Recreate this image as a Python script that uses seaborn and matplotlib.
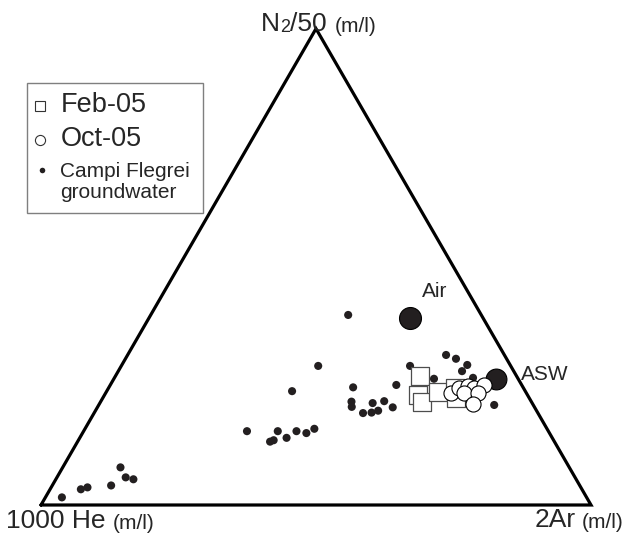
import numpy as np
import pandas as pd
import matplotlib
matplotlib.use("Agg")
import matplotlib.pyplot as plt
import seaborn as sns
from matplotlib.patches import Rectangle
from matplotlib.lines import Line2D

sns.set_theme(style="white")
plt.rcParams["font.family"] = ["Liberation Sans", "DejaVu Sans"]

# ---- data: ternary compositions in % (N2/50, 2Ar); 1000He = 100 - N2 - Ar ----
gw_n2 = [39.9, 29.2, 23.9, 15.5, 13.3, 13.6, 15.5, 14.1, 15.5, 15.1, 16.0,
         24.7, 25.2, 21.7, 20.6, 19.3, 21.4, 21.8, 20.5, 19.4, 19.8,
         29.2, 26.5, 31.5, 30.7, 29.4, 28.1, 26.7, 21.0,
         1.6, 3.3, 3.7, 4.1, 7.9, 5.8, 5.4]
gw_ar = [35.9, 35.8, 33.7, 29.7, 35.0, 35.5, 35.3, 37.6, 38.7, 40.7, 41.7,
         44.4, 52.0, 45.6, 46.2, 48.9, 49.6, 51.5, 53.7, 50.4, 51.4,
         52.5, 58.2, 57.9, 60.1, 62.8, 62.5, 65.2, 71.9,
         3.0, 5.6, 6.6, 10.7, 10.5, 12.5, 14.1]

feb_n2 = [27.1, 23.1, 21.6, 23.7, 24.6, 22.5]
feb_ar = [55.4, 57.0, 58.5, 60.3, 63.0, 64.2]

oct_n2 = [23.5, 24.6, 25.0, 24.6, 25.2, 23.5, 23.5, 21.2]
oct_ar = [62.8, 63.7, 65.2, 66.5, 68.0, 65.2, 67.7, 67.9]

ref_names = ["Air", "ASW"]
ref_n2 = [39.3, 26.5]
ref_ar = [47.5, 69.5]

vertex_labels = ["N2/50", "1000 He", "2Ar"]
unit_label = "(m/l)"
legend_labels = ["Feb-05", "Oct-05", "Campi Flegrei\ngroundwater"]


def to_xy(n2, ar):
    n2 = np.asarray(n2, float)
    ar = np.asarray(ar, float)
    return ar + n2 / 2.0, n2 * np.sqrt(3) / 2.0


def frame(n2, ar, group):
    x, y = to_xy(n2, ar)
    he = 100 - np.asarray(n2, float) - np.asarray(ar, float)
    return pd.DataFrame({"x": x, "y": y, "N2": n2, "Ar": ar, "He": he, "group": group})


gw = frame(gw_n2, gw_ar, "gw")
feb = frame(feb_n2, feb_ar, "feb")
octo = frame(oct_n2, oct_ar, "oct")
ref = frame(ref_n2, ref_ar, "ref")

W, H = 628, 540
fig = plt.figure(figsize=(W / 100, H / 100), dpi=100)
ax = fig.add_axes([0, 0, 1, 1])
S = 5.5  # pixels per ternary unit
ax.set_xlim(-41 / S, (W - 41) / S)
ax.set_ylim(-35 / S, (H - 35) / S)
ax.set_axis_off()

# triangle frame from the three pure-end-member compositions
tri_n2 = [0, 0, 100, 0]
tri_ar = [0, 100, 0, 0]
tx, ty = to_xy(tri_n2, tri_ar)
ax.plot(tx, ty, color="black", lw=2.3, solid_joinstyle="miter", zorder=1)

dark = "#231f20"
sns.scatterplot(data=gw, x="x", y="y", ax=ax, color=dark, s=34, edgecolor="none",
                legend=False, zorder=2)
sns.scatterplot(data=ref.iloc[[0]], x="x", y="y", ax=ax, color=dark, s=250,
                edgecolor="black", linewidth=0.8, legend=False, zorder=3)
sns.scatterplot(data=ref.iloc[[1]], x="x", y="y", ax=ax, color=dark, s=225,
                edgecolor="black", linewidth=0.8, legend=False, zorder=3)
sns.scatterplot(data=feb, x="x", y="y", ax=ax, marker="s", color="white", s=150,
                edgecolor="#4d4d4d", linewidth=0.9, legend=False, zorder=4)
sns.scatterplot(data=octo, x="x", y="y", ax=ax, marker="o", color="white", s=118,
                edgecolor="black", linewidth=0.8, legend=False, zorder=5)


def P(x, y):
    return x / W, 1 - y / H


# reference point labels
fig.text(*P(422, 297), ref_names[0], fontsize=15, va="baseline", ha="left")
fig.text(*P(521, 380), ref_names[1], fontsize=15, va="baseline", ha="left")

# apex label: N2/50 (m/l)
t1 = fig.text(*P(261, 31), "N", fontsize=19, va="baseline", ha="left")
t2 = ax.annotate("2", xy=(1, 0), xycoords=t1, fontsize=13, va="bottom", ha="left")
t3 = ax.annotate("/50", xy=(1, 0), xycoords=t2, fontsize=19, va="bottom", ha="left")
ax.annotate(unit_label, xy=(1, 0), xycoords=t3, xytext=(6, 0), textcoords="offset points",
            fontsize=15, va="bottom", ha="left")

# bottom-left label
b1 = fig.text(*P(6, 528), vertex_labels[1], fontsize=19, va="baseline", ha="left")
ax.annotate(unit_label, xy=(1, 0), xycoords=b1, xytext=(5, 0), textcoords="offset points",
            fontsize=15, va="bottom", ha="left")

# bottom-right label
r1 = fig.text(*P(535, 527), vertex_labels[2], fontsize=19, va="baseline", ha="left")
ax.annotate(unit_label, xy=(1, 0), xycoords=r1, xytext=(4, 0), textcoords="offset points",
            fontsize=15, va="bottom", ha="left")

# legend box drawn manually
x0, y0 = P(27, 213)
fig.add_artist(Rectangle((x0, y0), 176 / W, 130 / H, transform=fig.transFigure,
                         facecolor="white", edgecolor="#7f7f7f", lw=1.0, zorder=6))
fig.add_artist(Line2D([P(40, 106)[0]], [P(40, 106)[1]], marker="s", ms=7.3, mfc="white",
                      mec="#333333", mew=0.8, transform=fig.transFigure, zorder=7))
fig.add_artist(Line2D([P(40, 140)[0]], [P(40, 140)[1]], marker="o", ms=7.3, mfc="white",
                      mec="#333333", mew=0.8, transform=fig.transFigure, zorder=7))
fig.add_artist(Line2D([P(42, 170)[0]], [P(42, 170)[1]], marker="o", ms=4, mfc=dark,
                      mec=dark, mew=0, transform=fig.transFigure, zorder=7))
fig.text(*P(61, 112), legend_labels[0], fontsize=19.5, va="baseline", ha="left", zorder=8)
fig.text(*P(61, 146), legend_labels[1], fontsize=19.5, va="baseline", ha="left", zorder=8)
fig.text(*P(60, 177), legend_labels[2].split("\n")[0], fontsize=15, va="baseline",
         ha="left", zorder=8)
fig.text(*P(60, 198), legend_labels[2].split("\n")[1], fontsize=15, va="baseline",
         ha="left", zorder=8)

fig.savefig("out.png", dpi=100, facecolor="white")
